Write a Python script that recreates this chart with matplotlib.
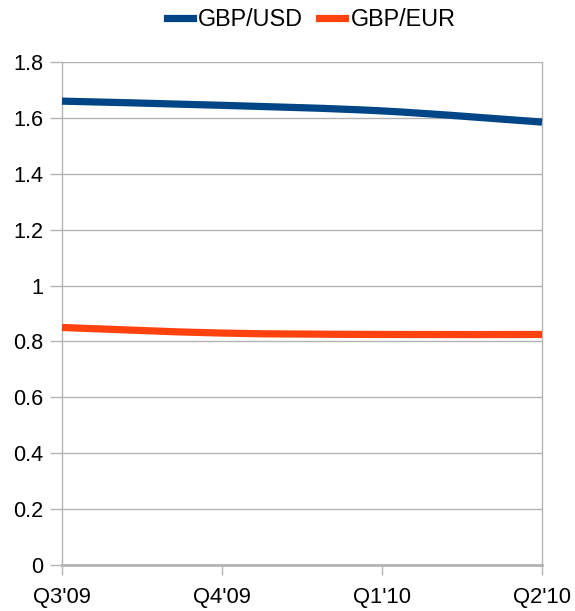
import matplotlib
matplotlib.use("Agg")
import matplotlib.pyplot as plt
from matplotlib.path import Path
from matplotlib.patches import PathPatch
from matplotlib.lines import Line2D
import numpy as np

plt.rcParams['font.family'] = ['Liberation Sans', 'DejaVu Sans']

categories = ["Q3'09", "Q4'09", "Q1'10", "Q2'10"]
gbp_usd = [1.66, 1.645, 1.625, 1.585]
gbp_eur = [0.85, 0.83, 0.825, 0.825]
y_ticks = [0, 0.2, 0.4, 0.6, 0.8, 1, 1.2, 1.4, 1.6, 1.8]
y_labels = ["0", "0.2", "0.4", "0.6", "0.8", "1", "1.2", "1.4", "1.6", "1.8"]
names = ["GBP/USD", "GBP/EUR"]
colors = ["#004586", "#ff420e"]

fig = plt.figure(figsize=(5.75, 6.11), dpi=100)
ax = fig.add_axes([0.1078, 0.0753, 0.8348, 0.8232])

def smooth_path(xs, ys):
    # Catmull-Rom to Bezier control points
    n = len(xs)
    verts = [(xs[0], ys[0])]
    codes = [Path.MOVETO]
    for i in range(n - 1):
        x0, y0 = (xs[i - 1], ys[i - 1]) if i > 0 else (xs[i], ys[i])
        x1, y1 = xs[i], ys[i]
        x2, y2 = xs[i + 1], ys[i + 1]
        x3, y3 = (xs[i + 2], ys[i + 2]) if i + 2 < n else (xs[i + 1], ys[i + 1])
        c1 = (x1 + (x2 - x0) / 6.0, y1 + (y2 - y0) / 6.0)
        c2 = (x2 - (x3 - x1) / 6.0, y2 - (y3 - y1) / 6.0)
        verts += [c1, c2, (x2, y2)]
        codes += [Path.CURVE4] * 3
    return Path(verts, codes)

xs = list(range(len(categories)))
for vals, c in zip([gbp_usd, gbp_eur], colors):
    p = smooth_path(xs, vals)
    ax.add_patch(PathPatch(p, facecolor='none', edgecolor=c, lw=5.2,
                           capstyle='butt', joinstyle='round', zorder=3, clip_on=False))

ax.set_xlim(0, 3)
ax.set_ylim(0, 1.8)
ax.set_xticks(xs)
ax.set_xticklabels(categories, fontsize=15.8)
ax.set_yticks(y_ticks)
ax.set_yticklabels(y_labels, fontsize=15.6)

grid_c = "#b3b3b3"
ax.grid(axis='y', color=grid_c, lw=1.0, zorder=0)
ax.set_axisbelow(True)
ax.tick_params(axis='y', length=8.5, width=1, color=grid_c, pad=5)
ax.tick_params(axis='x', length=7.5, width=1, color=grid_c, pad=8)
for s in ['left', 'right']:
    ax.spines[s].set_color(grid_c)
    ax.spines[s].set_linewidth(1)
ax.spines['top'].set_visible(False)
ax.spines['bottom'].set_color(grid_c)
ax.spines['bottom'].set_linewidth(2)

handles = [Line2D([0], [0], color=c, lw=5.2) for c in colors]
fig.legend(handles, names, loc='upper center', bbox_to_anchor=(0.541, 1.021),
           ncol=2, frameon=False, fontsize=16.8, handlelength=1.12,
           handletextpad=0.22, columnspacing=0.7)

fig.savefig("out.png", dpi=100)
